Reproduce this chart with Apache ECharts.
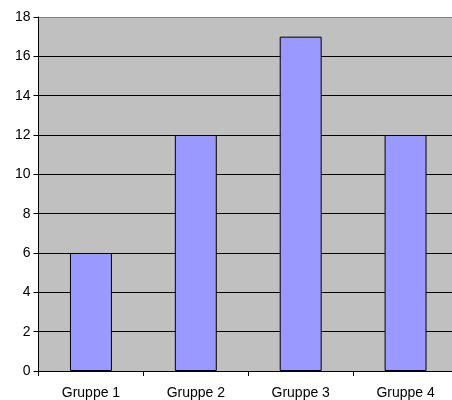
<!DOCTYPE html>
<html>
<head>
<meta charset="utf-8">
<script src="https://cdn.jsdelivr.net/npm/echarts@6/dist/echarts.min.js"></script>
<style>
html,body{margin:0;padding:0;background:#fff;overflow:hidden;}
#chart{width:458px;height:400px;}
</style>
</head>
<body>
<div id="chart"></div>
<script>
const categories = ['Gruppe 1', 'Gruppe 2', 'Gruppe 3', 'Gruppe 4'];
const values = [6, 12, 17, 12];
const yTicks = [0, 2, 4, 6, 8, 10, 12, 14, 16, 18];

const chart = echarts.init(document.getElementById('chart'), null, {renderer: 'canvas'});
const font = 'Liberation Sans, Arial, sans-serif';
const gridColors = yTicks.map((v, i) => i === yTicks.length - 1 ? '#808080' : '#000000');
chart.setOption({
  animation: false,
  grid: {left: 38.5, top: 17, right: 0, bottom: 29, backgroundColor: '#c0c0c0', show: true, borderWidth: 0},
  xAxis: {
    type: 'category',
    data: categories,
    axisLine: {show: true, lineStyle: {color: '#000', width: 1}},
    axisTick: {show: true, length: 5, lineStyle: {color: '#000'}},
    axisLabel: {color: '#000', fontFamily: font, fontSize: 14, margin: 15}
  },
  yAxis: {
    type: 'value',
    min: yTicks[0],
    max: yTicks[yTicks.length - 1],
    interval: 2,
    axisLine: {show: true, lineStyle: {color: '#000', width: 1}},
    axisTick: {show: true, length: 5, lineStyle: {color: '#000'}},
    axisLabel: {color: '#000', fontFamily: font, fontSize: 14, margin: 8},
    splitLine: {show: true, lineStyle: {color: gridColors, width: 1}}
  },
  series: [{
    type: 'bar',
    data: values,
    barWidth: '40%',
    itemStyle: {color: '#9999ff', borderColor: '#000', borderWidth: 1}
  }]
});
</script>
</body>
</html>
